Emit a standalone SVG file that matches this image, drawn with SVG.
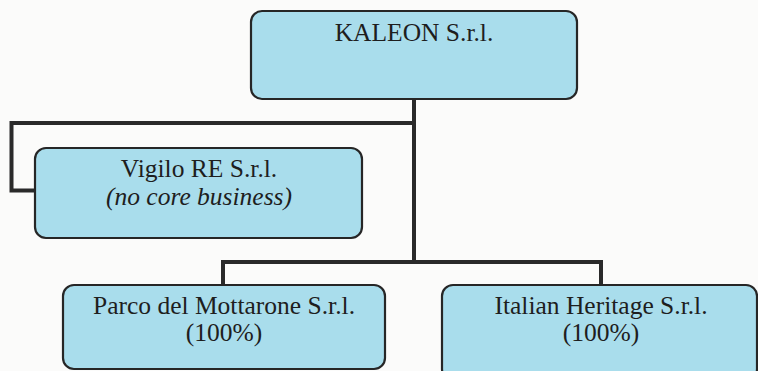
<svg xmlns="http://www.w3.org/2000/svg" width="758" height="371" viewBox="0 0 758 371">
<style>
.box{fill:#a9ddec;stroke:#262626;stroke-width:2.2}
.t{font-family:"Liberation Serif","Times New Roman",serif;font-size:25.5px;fill:#1e1e1e;text-anchor:middle}
.i{font-style:italic}
.c{fill:none;stroke:#2a2a2a;stroke-width:4;stroke-linejoin:miter}
</style>
<rect width="758" height="371" fill="#fbfbfa"/>
<g id="connectors">
<path class="c" d="M414,99 V262"/>
<path class="c" d="M414,123 H11.5 V190.5 H35"/>
<path class="c" d="M223,285 V262 H601 V285"/>
</g>
<g id="kaleon">
<rect class="box" x="251" y="11" width="326" height="88" rx="11"/>
<text class="t" x="414" y="41">KALEON S.r.l.</text>
</g>
<g id="vigilo">
<rect class="box" x="35" y="148" width="327" height="90" rx="11"/>
<text class="t" x="199" y="177">Vigilo RE S.r.l.</text>
<text class="t i" x="199" y="205">(no core business)</text>
</g>
<g id="parco">
<rect class="box" x="63" y="285" width="322" height="84" rx="11"/>
<text class="t" x="224" y="314">Parco del Mottarone S.r.l.</text>
<text class="t" x="224" y="341">(100%)</text>
</g>
<g id="italian">
<rect class="box" x="442" y="285" width="315" height="95" rx="11"/>
<text class="t" x="601" y="314">Italian Heritage S.r.l.</text>
<text class="t" x="601" y="341">(100%)</text>
</g>
</svg>
